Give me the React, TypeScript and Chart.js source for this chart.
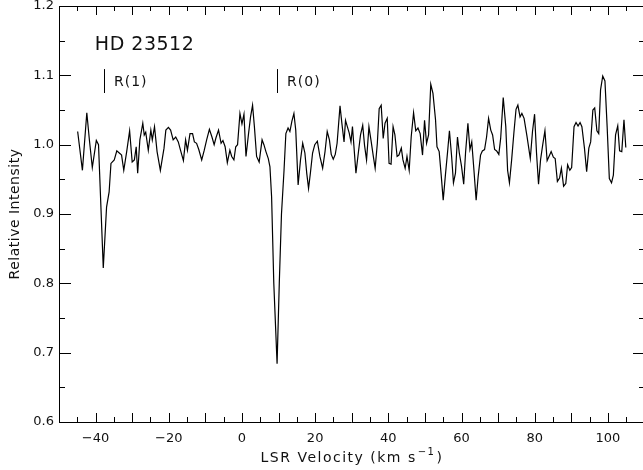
import React, { useEffect, useRef } from "react";
import { Chart, registerables } from "chart.js";

Chart.register(...registerables);

const velocity: number[] = [
  -44.9, -43.6, -42.4, -41.7, -40.9, -39.8, -39.2, -37.9, -37.0, -36.3, -35.8, -34.9, -34.2, -33.3, -32.9, -32.3,
  -31.5, -30.7, -30.0, -29.4, -28.9, -28.5, -27.9, -27.1, -26.7, -26.3, -25.6, -24.9, -24.5, -23.9, -23.2, -22.3,
  -21.3, -20.8, -20.1, -19.5, -18.8, -18.1, -17.4, -16.8, -16.0, -15.4, -14.9, -14.2, -13.5, -13.0, -12.4, -11.8,
  -11.0, -10.3, -9.65, -8.9, -8.2, -7.6, -7.1, -6.4, -5.7, -5.2, -4.6, -4.0, -3.3, -2.8, -2.2, -1.7,
  -1.2, -0.55, 0.0, 0.55, 1.1, 1.8, 2.35, 2.9, 3.4, 4.0, 4.7, 5.5, 6.0, 6.55, 7.2, 7.65,
  8.1, 8.7, 9.6, 10.2, 10.8, 11.5, 12.0, 12.6, 13.1, 13.65, 14.2, 14.7, 15.35, 16.0, 16.6, 17.2,
  17.7, 18.2, 18.7, 19.3, 19.9, 20.6, 21.3, 22.05, 22.7, 23.3, 23.9, 24.4, 24.95, 25.5, 26.0, 26.8,
  27.3, 27.9, 28.3, 28.8, 29.3, 29.8, 30.2, 31.15, 31.8, 32.4, 33.0, 33.5, 34.05, 34.7, 35.25, 35.9,
  36.4, 37.0, 37.5, 38.05, 38.6, 39.1, 39.7, 40.2, 40.75, 41.3, 41.8, 42.4, 42.9, 43.55, 44.0, 44.6,
  45.1, 45.7, 46.25, 46.9, 47.5, 48.1, 48.7, 49.35, 49.9, 50.45, 51.0, 51.6, 52.2, 52.9, 53.3, 53.9,
  54.45, 55.0, 55.6, 56.2, 56.7, 57.3, 57.8, 58.35, 58.9, 59.4, 60.0, 60.6, 61.1, 61.75, 62.3, 62.8,
  63.4, 64.0, 64.55, 65.2, 65.7, 66.3, 66.85, 67.4, 68.0, 68.5, 69.05, 69.6, 70.2, 70.7, 71.4, 72.1,
  72.6, 73.1, 73.7, 74.3, 74.9, 75.4, 76.0, 76.5, 77.1, 77.9, 78.8, 79.4, 79.97, 80.5, 81.05, 81.6,
  82.2, 82.8, 83.4, 84.0, 84.5, 85.1, 85.6, 86.2, 86.8, 87.3, 87.9, 88.5, 89.0, 89.6, 90.1, 90.75,
  91.3, 91.85, 92.4, 92.9, 93.6, 94.2, 94.8, 95.3, 95.9, 96.4, 97.0, 97.5, 98.0, 98.6, 99.2, 99.8,
  100.4, 101.0, 101.5, 102.1, 102.7, 103.2, 103.8, 104.4, 104.9,
];

const intensity: number[] = [
  1.019, 0.963, 1.046, 1.007, 0.967, 1.006, 1.0, 0.822, 0.91, 0.932, 0.973, 0.978, 0.991, 0.987, 0.985, 0.963,
  0.99, 1.02, 0.975, 0.978, 0.997, 0.959, 1.007, 1.031, 1.014, 1.018, 0.992, 1.021, 1.007, 1.026, 0.99, 0.963,
  0.995, 1.021, 1.025, 1.021, 1.007, 1.011, 1.004, 0.992, 0.977, 1.007, 0.992, 1.016, 1.016, 1.004, 1.002, 0.993,
  0.978, 0.992, 1.007, 1.022, 1.011, 1.0, 1.01, 1.021, 1.002, 1.006, 0.997, 0.974, 0.992, 0.983, 0.978, 0.997,
  1.0, 1.045, 1.03, 1.044, 0.983, 1.016, 1.04, 1.057, 1.026, 0.983, 0.975, 1.007, 1.0, 0.99, 0.98, 0.968,
  0.925, 0.8, 0.684, 0.8, 0.9, 0.963, 1.016, 1.024, 1.019, 1.034, 1.045, 1.021, 0.942, 0.978, 1.002, 0.988,
  0.959, 0.937, 0.959, 0.988, 1.0, 1.005, 0.983, 0.966, 0.99, 1.019, 1.007, 0.986, 0.979, 0.986, 1.002, 1.056,
  1.031, 1.004, 1.035, 1.026, 1.017, 1.004, 1.026, 0.959, 0.988, 1.014, 1.028, 0.999, 0.978, 1.026, 1.007, 0.983,
  0.966, 1.002, 1.052, 1.057, 1.009, 1.031, 1.038, 0.973, 0.972, 1.026, 1.014, 0.983, 0.985, 0.995, 0.978, 0.966,
  0.983, 0.963, 1.011, 1.046, 1.02, 1.024, 1.016, 0.985, 1.035, 1.002, 1.014, 1.087, 1.074, 1.036, 0.997, 0.99,
  0.956, 0.92, 0.956, 0.99, 1.02, 0.983, 0.945, 0.959, 1.011, 0.988, 0.969, 0.943, 0.988, 1.031, 0.993, 1.004,
  0.963, 0.92, 0.954, 0.985, 0.991, 0.993, 1.011, 1.038, 1.021, 1.014, 0.993, 0.991, 0.986, 1.009, 1.068, 1.026,
  0.963, 0.945, 0.978, 1.016, 1.051, 1.057, 1.04, 1.045, 1.038, 1.012, 0.98, 1.019, 1.044, 0.988, 0.943, 0.978,
  1.0, 1.02, 0.977, 0.984, 0.99, 0.982, 0.98, 0.947, 0.952, 0.966, 0.94, 0.944, 0.971, 0.963, 0.967, 1.026,
  1.032, 1.027, 1.032, 1.026, 0.995, 0.961, 0.995, 1.004, 1.05, 1.053, 1.02, 1.016, 1.079, 1.099, 1.092, 1.026,
  0.951, 0.945, 0.956, 1.014, 1.027, 0.991, 0.99, 1.036, 0.996,
];

const xTickLabels: number[] = [-40, -20, 0, 20, 40, 60, 80, 100];
const xMajorTicks: number[] = [-40, -30, -20, -10, 0, 10, 20, 30, 40, 50, 60, 70, 80, 90, 100];
const xMinorTicks: number[] = [-45, -35, -25, -15, -5, 5, 15, 25, 35, 45, 55, 65, 75, 85, 95, 105];
const yTickLabels: number[] = [0.6, 0.7, 0.8, 0.9, 1.0, 1.1, 1.2];
const yMinorTicks: number[] = [0.65, 0.75, 0.85, 0.95, 1.05, 1.15];

const xTitleMain = "LSR Velocity (km s";
const xTitleSup = "\u22121";
const xTitleEnd = ")";
const yTitle = "Relative Intensity";

const starName = "HD 23512";
const starLabelPos = { v: -40.2, i: 1.1437 };
const markerLabels: string[] = ["R(1)", "R(0)"];
const markerVelocities: number[] = [-37.7, 9.6];
const markerTop = 1.109;
const markerBottom = 1.0745;
const markerText = 1.0904;

const FONT = "'DejaVu Sans', 'Liberation Sans', sans-serif";
const INK = "#111";

const framePlugin = {
  id: "frame",
  afterDraw(chart: any) {
    const { ctx, chartArea, scales } = chart;
    const xs = scales.x;
    const ys = scales.y;
    const { left, right, top, bottom } = chartArea;
    ctx.save();
    ctx.strokeStyle = "#000";
    ctx.lineWidth = 1;
    ctx.beginPath();
    ctx.moveTo(left + 0.5, top + 0.5);
    ctx.lineTo(right + 0.5, top + 0.5);
    ctx.moveTo(left + 0.5, top + 0.5);
    ctx.lineTo(left + 0.5, bottom + 0.5);
    ctx.lineTo(right + 0.5, bottom + 0.5);
    const xt = (vals: number[], len: number) => {
      vals.forEach((v) => {
        const px = Math.round(xs.getPixelForValue(v)) + 0.5;
        ctx.moveTo(px, bottom);
        ctx.lineTo(px, bottom - len);
        ctx.moveTo(px, top);
        ctx.lineTo(px, top + len);
      });
    };
    xt(xMajorTicks, 9);
    xt(xMinorTicks, 5);
    const yt = (vals: number[], len: number) => {
      vals.forEach((v) => {
        const py = Math.round(ys.getPixelForValue(v)) + 0.5;
        ctx.moveTo(left, py);
        ctx.lineTo(left + len, py);
        ctx.moveTo(right + 2, py);
        ctx.lineTo(right + 2 - len, py);
      });
    };
    yt(yTickLabels, 12);
    yt(yMinorTicks, 6);
    ctx.stroke();

    // line markers
    ctx.beginPath();
    markerVelocities.forEach((v) => {
      const px = Math.round(xs.getPixelForValue(v)) + 0.5;
      ctx.moveTo(px, ys.getPixelForValue(markerTop));
      ctx.lineTo(px, ys.getPixelForValue(markerBottom));
    });
    ctx.stroke();

    ctx.fillStyle = INK;
    ctx.textBaseline = "middle";
    ctx.textAlign = "left";
    (ctx as any).letterSpacing = "1px";
    ctx.font = `14px ${FONT}`;
    markerLabels.forEach((t, k) => {
      const px = xs.getPixelForValue(markerVelocities[k]);
      ctx.fillText(t, px + 10, ys.getPixelForValue(markerText));
    });
    (ctx as any).letterSpacing = "0.5px";
    ctx.font = `19px ${FONT}`;
    ctx.fillText(starName, xs.getPixelForValue(starLabelPos.v), ys.getPixelForValue(starLabelPos.i));

    // x title with superscript
    (ctx as any).letterSpacing = "1.5px";
    ctx.font = `14px ${FONT}`;
    const wMain = ctx.measureText(xTitleMain).width;
    const wEnd = ctx.measureText(xTitleEnd).width;
    ctx.font = `10px ${FONT}`;
    const wSup = ctx.measureText(xTitleSup).width;
    const cx = (left + right + 2) / 2;
    const ty = 458;
    let x0 = cx - (wMain + wSup + wEnd + 2) / 2;
    ctx.font = `14px ${FONT}`;
    ctx.fillText(xTitleMain, x0, ty);
    x0 += wMain + 1;
    ctx.font = `10px ${FONT}`;
    ctx.fillText(xTitleSup, x0, ty - 6);
    x0 += wSup + 1;
    ctx.font = `14px ${FONT}`;
    ctx.fillText(xTitleEnd, x0, ty);

    // y title
    (ctx as any).letterSpacing = "0.5px";
    ctx.translate(15, (top + bottom) / 2);
    ctx.rotate(-Math.PI / 2);
    ctx.textAlign = "center";
    ctx.font = `14px ${FONT}`;
    ctx.fillText(yTitle, 0, 0);
    ctx.restore();
  },
};

export default function App() {
  const ref = useRef<HTMLCanvasElement | null>(null);
  useEffect(() => {
    if (!ref.current) return;
    const chart = new Chart(ref.current, {
      type: "scatter",
      data: {
        datasets: [
          {
            data: velocity.map((v, k) => ({ x: v, y: intensity[k] })),
            showLine: true,
            borderColor: "#000",
            borderWidth: 1.2,
            pointRadius: 0,
            tension: 0,
          },
        ],
      },
      options: {
        animation: false,
        responsive: false,
        devicePixelRatio: 1,
        layout: { padding: { top: 6, left: 0, right: 0, bottom: 0 } },
        plugins: { legend: { display: false }, tooltip: { enabled: false } },
        scales: {
          x: {
            type: "linear",
            min: -50,
            max: 109.6,
            grid: { display: false, drawTicks: false },
            border: { display: false },
            afterBuildTicks: (s: any) => {
              s.ticks = xTickLabels.map((v) => ({ value: v }));
            },
            afterFit: (s: any) => {
              s.height = 48;
              s.paddingLeft = 0;
              s.paddingRight = 0;
            },
            ticks: {
              autoSkip: false,
              maxRotation: 0,
              padding: 9,
              color: INK,
              font: { family: FONT, size: 13 },
              callback: (v: any) => (v < 0 ? "\u2212" + Math.abs(v) : String(v)),
            },
          },
          y: {
            type: "linear",
            min: 0.6,
            max: 1.2,
            grid: { display: false, drawTicks: false },
            border: { display: false },
            afterBuildTicks: (s: any) => {
              s.ticks = yTickLabels.map((v) => ({ value: v }));
            },
            afterFit: (s: any) => {
              s.width = 59;
              s.paddingTop = 0;
              s.paddingBottom = 0;
            },
            ticks: {
              autoSkip: false,
              padding: 5,
              color: INK,
              font: { family: FONT, size: 13 },
              callback: (v: any) => Number(v).toFixed(1),
            },
          },
        },
      },
      plugins: [framePlugin],
    });
    return () => chart.destroy();
  }, []);
  return (
    <div style={{ position: "fixed", left: 0, top: 0, width: 643, height: 470, background: "#fff" }}>
      <canvas ref={ref} width={643} height={470} style={{ width: 643, height: 470, display: "block" }} />
    </div>
  );
}
